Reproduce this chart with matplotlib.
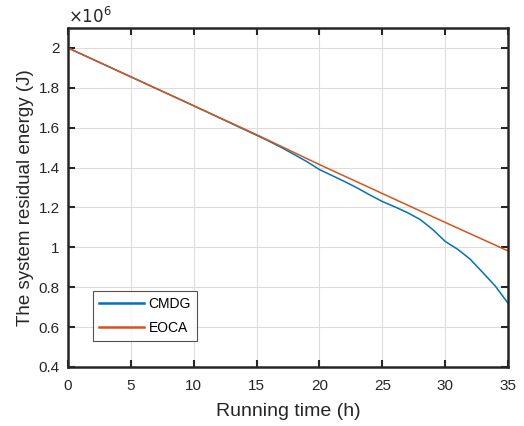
import numpy as np
import matplotlib.pyplot as plt

plt.rcParams['font.family'] = ['Liberation Sans', 'DejaVu Sans']

# running time (h) and residual energy (x1e6 J)
hours_eoca = [0, 5, 10, 15, 20, 25, 30, 35]
energy_eoca = [2.0, 1.855, 1.71, 1.565, 1.415, 1.27, 1.125, 0.982]

hours_cmdg = [0, 5, 10, 15, 16, 17, 18, 19, 20, 21, 22, 23, 24, 25, 26, 27,
              28, 29, 30, 31, 32, 33, 34, 35]
energy_cmdg = [2.0, 1.855, 1.71, 1.562, 1.532, 1.50, 1.465, 1.43, 1.39, 1.36,
               1.33, 1.298, 1.263, 1.23, 1.203, 1.174, 1.14, 1.09, 1.03, 0.99,
               0.94, 0.873, 0.805, 0.72]

fig = plt.figure(figsize=(5.24, 4.26), dpi=100)
ax = fig.add_axes([0.1298, 0.1385, 0.8397, 0.7958])

ax.plot(hours_cmdg, energy_cmdg, color='#0072BD', lw=1.1, label='CMDG')
ax.plot(hours_eoca, energy_eoca, color='#D95319', lw=1.1, label='EOCA')

ax.set_xlim(0, 35)
ax.set_ylim(0.4, 2.1)
ax.set_xticks(np.arange(0, 36, 5))
ax.set_yticks([0.4, 0.6, 0.8, 1.0, 1.2, 1.4, 1.6, 1.8, 2.0])
ax.set_yticklabels(['0.4', '0.6', '0.8', '1', '1.2', '1.4', '1.6', '1.8', '2'])
ax.grid(True, color='#dcdcdc', lw=0.8)
ax.tick_params(direction='in', top=True, right=True, labelsize=11, length=5,
               width=1.5, colors='#262626')
ax.tick_params(axis='x', pad=9)
ax.tick_params(axis='y', pad=6)
for s in ax.spines.values():
    s.set_linewidth(1.8)
    s.set_color('#262626')

ax.set_xlabel('Running time (h)', fontsize=14, labelpad=7, color='#262626')
ax.set_ylabel('The system residual energy (J)', fontsize=13.5, labelpad=3,
              color='#262626')
ax.text(0.0, 1.005, r'$\times10^6$', transform=ax.transAxes, fontsize=12,
        ha='left', va='bottom', color='#262626')

leg = ax.legend(loc='lower left', bbox_to_anchor=(0.0568, 0.0767),
                borderaxespad=0, fontsize=10, fancybox=False,
                edgecolor='#262626', handlelength=3.2, handletextpad=0.35,
                borderpad=0.45, labelspacing=0.7)
leg.get_frame().set_linewidth(0.8)
for h in leg.get_lines():
    h.set_linewidth(1.8)

fig.savefig('out.png', dpi=100)
